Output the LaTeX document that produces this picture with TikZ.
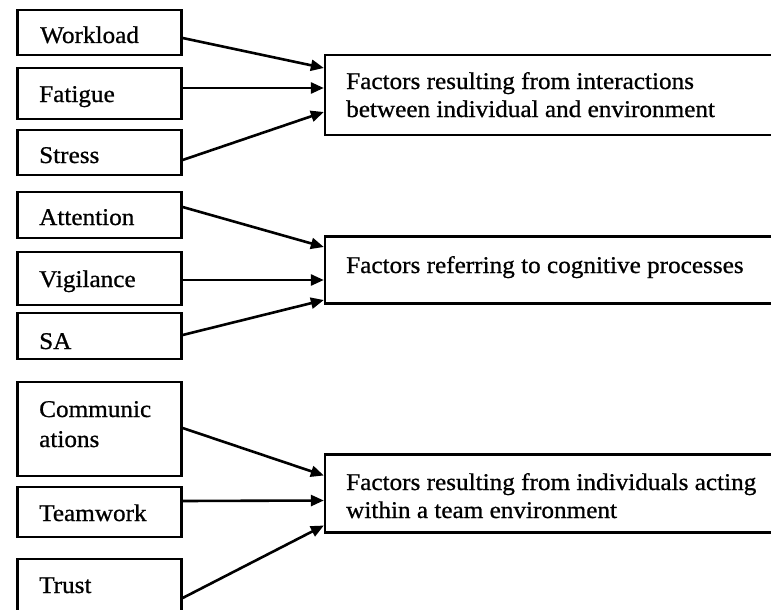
\documentclass[tikz,border=0pt]{standalone}
\usepackage{fontspec}
\setmainfont{Liberation Serif}[FakeStretch=1.05,FakeBold=0.8]
\usetikzlibrary{arrows.meta}
\begin{document}
\begin{tikzpicture}[x=1pt,y=-1pt,
  lbox/.style={draw=black,line width=2.3pt,rectangle,minimum width=164pt,inner sep=0pt,fill=white},
  rbox/.style={draw=black,line width=2.3pt,rectangle,minimum width=460pt,inner sep=0pt,fill=white},
  ltxt/.style={anchor=base west,inner sep=0pt,font=\fontsize{24}{28}\selectfont},
  arr/.style={line width=2.6pt,-{Triangle[length=13pt,width=11pt]}}]
\useasboundingbox (0,0) rectangle (771,610);
\clip (0,0) rectangle (771,610);
\fill[white] (0,0) rectangle (771,610);
% left boxes
\node[lbox,minimum height=45pt] (wl) at (99.5,32.5) {};
\node[lbox,minimum height=51pt] (fa) at (99.5,93.5) {};
\node[lbox,minimum height=45pt] (st) at (99.5,152.5) {};
\node[lbox,minimum height=46pt] (at) at (99.5,215) {};
\node[lbox,minimum height=53pt] (vi) at (99.5,278.5) {};
\node[lbox,minimum height=46pt] (sa) at (99.5,336) {};
\node[lbox,minimum height=94pt] (co) at (99.5,429) {};
\node[lbox,minimum height=50pt] (tw) at (99.5,512) {};
\node[lbox,minimum height=53pt] (tr) at (99.5,585.5) {};
% right boxes
\node[rbox,minimum height=80pt] (f1) at (555,95) {};
\node[rbox,minimum height=67pt] (f2) at (555,270) {};
\node[rbox,minimum height=78pt] (f3) at (555,493.5) {};
% texts
\node[ltxt] (twl) at (40,43) {Workload};
\node[ltxt] (tfa) at (39,102) {Fatigue};
\node[ltxt] (tst) at (39,163) {Stress};
\node[ltxt] (tat) at (39,225) {Attention};
\node[ltxt] (tvi) at (39,287) {Vigilance};
\node[ltxt] (tsa) at (39,349) {SA};
\node[ltxt] (tco1) at (39,417) {Communic};
\node[ltxt] (tco2) at (39,447) {ations};
\node[ltxt] (ttw) at (39,521) {Teamwork};
\node[ltxt] (ttr) at (39,593) {Trust};
\node[ltxt] (tf1a) at (346,89) {Factors resulting from interactions};
\node[ltxt] (tf1b) at (346,117) {between individual and environment};
\node[ltxt] (tf2) at (346,273) {Factors referring to cognitive processes};
\node[ltxt] (tf3a) at (346,490) {Factors resulting from individuals acting};
\node[ltxt] (tf3b) at (346,518) {within a team environment};
% arrows
\draw[arr] ([yshift=-5.5pt]wl.east) -- ([yshift=27pt]f1.west);
\draw[arr] ([yshift=5.5pt]fa.east) -- ([yshift=7pt]f1.west);
\draw[arr] ([yshift=-7.5pt]st.east) -- ([yshift=-17pt]f1.west);
\draw[arr] ([yshift=8pt]at.east) -- ([yshift=23pt]f2.west);
\draw[arr] ([yshift=-1.5pt]vi.east) -- ([yshift=-10pt]f2.west);
\draw[arr] ([yshift=1pt]sa.east) -- ([yshift=-30pt]f2.west);
\draw[arr] ([yshift=1pt]co.east) -- ([yshift=18pt]f3.west);
\draw[arr] ([yshift=11pt]tw.east) -- ([yshift=-7pt]f3.west);
\draw[arr] ([yshift=-12.5pt]tr.east) -- ([yshift=-32pt]f3.west);
\end{tikzpicture}
\end{document}
